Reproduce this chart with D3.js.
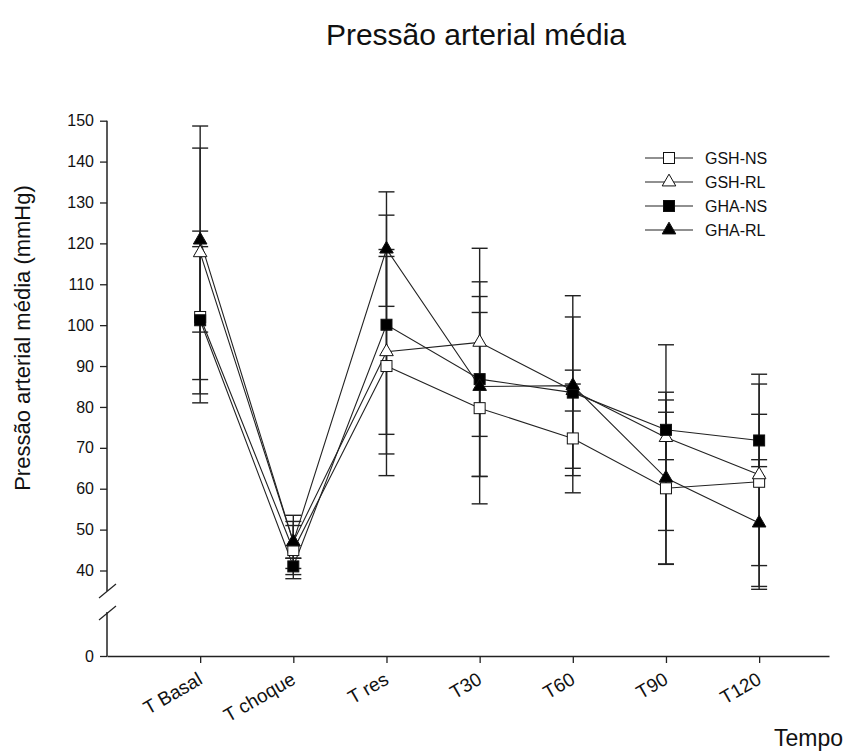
<!DOCTYPE html>
<html>
<head>
<meta charset="utf-8">
<script src="https://cdn.jsdelivr.net/npm/d3@7"></script>
<style>
  body { margin: 0; background: #fff; }
  svg { display: block; font-family: "Liberation Sans", Arial, sans-serif; }
</style>
</head>
<body>
<svg id="chart" width="846" height="753"></svg>
<script>
// ---- data ----
const categories = ["T Basal", "T choque", "T res", "T30", "T60", "T90", "T120"];
const seriesNames = ["GSH-NS", "GSH-RL", "GHA-NS", "GHA-RL"];
const gshNS = [102, 45, 90, 79.7, 72.3, 60.1, 61.7];
const gshNS_sd = [21, 7, 26.8, 23.4, 13.3, 18.6, 26.3];
const gshRL = [117.7, 47, 93.5, 95.8, 84, 72.5, 63.4];
const gshRL_sd = [31, 6.5, 25, 23, 5, 22.7, 22.2];
const ghaNS = [101.2, 41, 100.1, 86.8, 83.5, 74.4, 71.8];
const ghaNS_sd = [18, 2, 26.8, 23.8, 18.5, 7.3, 6.4];
const ghaRL = [120.8, 47, 118.6, 85, 85.2, 62.6, 51.6];
const ghaRL_sd = [22.5, 4, 14, 22, 22, 21, 15.5];
const yTicksUpper = [40, 50, 60, 70, 80, 90, 100, 110, 120, 130, 140, 150];
const yTicksLower = [0];

const series = [
  { name: seriesNames[0], values: gshNS, sd: gshNS_sd, shape: "square", fill: "#fff" },
  { name: seriesNames[1], values: gshRL, sd: gshRL_sd, shape: "triangle", fill: "#fff" },
  { name: seriesNames[2], values: ghaNS, sd: ghaNS_sd, shape: "square", fill: "#000" },
  { name: seriesNames[3], values: ghaRL, sd: ghaRL_sd, shape: "triangle", fill: "#000" }
];

const svg = d3.select("#chart");

// scales
const x = d3.scaleLinear().domain([0, 7.75]).range([107, 829]);
const yUp = d3.scaleLinear().domain([40, 150]).range([570.5, 120.7]);
const yLow = d3.scaleLinear().domain([0, 10]).range([656, 615]);

// title
svg.append("text").attr("x", 476).attr("y", 45).attr("text-anchor", "middle")
  .attr("font-size", 30).attr("fill", "#111").text("Pressão arterial média");

// y axis
const gYU = svg.append("g").attr("transform", "translate(107,0)")
  .call(d3.axisLeft(yUp).tickValues(yTicksUpper).tickSize(7).tickPadding(6).tickSizeOuter(0));
const gYL = svg.append("g").attr("transform", "translate(107,0)")
  .call(d3.axisLeft(yLow).tickValues(yTicksLower).tickSize(7).tickPadding(6).tickSizeOuter(0));
[gYU, gYL].forEach(g => {
  g.select(".domain").remove();
  g.selectAll("line").attr("stroke", "#222").attr("stroke-width", 1.3);
  g.selectAll("text").attr("font-size", 16).attr("fill", "#111")
    .attr("font-family", "Liberation Sans, Arial, sans-serif");
});
function line(x1, y1, x2, y2, sw) {
  svg.append("line").attr("x1", x1).attr("y1", y1).attr("x2", x2).attr("y2", y2)
    .attr("stroke", "#222").attr("stroke-width", sw || 1.5);
}
// axis line with break marks
line(107, yUp(150), 107, 591);
line(107, 612, 107, 656.5);
line(99, 598, 116, 584, 1.2);
line(99, 620, 116, 606, 1.2);

// x axis
const gX = svg.append("g").attr("transform", "translate(0,656)")
  .call(d3.axisBottom(x).tickValues(d3.range(1, categories.length + 1)).tickSize(7)
    .tickSizeOuter(0).tickFormat(d => categories[d - 1]));
gX.select(".domain").attr("stroke", "#222").attr("stroke-width", 1.5);
gX.selectAll("line").attr("stroke", "#222").attr("stroke-width", 1.3);
gX.selectAll("text")
  .attr("font-size", 19).attr("fill", "#111")
  .attr("font-family", "Liberation Sans, Arial, sans-serif")
  .attr("text-anchor", "end")
  .attr("dy", null)
  .attr("y", 0)
  .attr("transform", "translate(3,27) rotate(-30)");

// x axis title
svg.append("text").attr("x", 843).attr("y", 746).attr("text-anchor", "end")
  .attr("font-size", 23).attr("fill", "#111").text("Tempo");

// y axis title
svg.append("text").attr("transform", "translate(30,338) rotate(-90)")
  .attr("text-anchor", "middle").attr("font-size", 22).attr("fill", "#111")
  .text("Pressão arterial média (mmHg)");

// error bars
const capW = 8;
series.forEach(s => {
  const g = svg.append("g");
  s.values.forEach((v, i) => {
    const cx = x(i + 1);
    const hi = yUp(v + s.sd[i]), lo = yUp(v - s.sd[i]);
    g.append("line").attr("x1", cx).attr("x2", cx).attr("y1", hi).attr("y2", lo)
      .attr("stroke", "#222").attr("stroke-width", 1.4);
    [hi, lo].forEach(yy => g.append("line").attr("x1", cx - capW).attr("x2", cx + capW)
      .attr("y1", yy).attr("y2", yy).attr("stroke", "#222").attr("stroke-width", 1.4));
  });
});

// lines
const lineGen = d3.line().x((d, i) => x(i + 1)).y(d => yUp(d));
series.forEach(s => {
  svg.append("path").attr("d", lineGen(s.values)).attr("fill", "none")
    .attr("stroke", "#222").attr("stroke-width", 1.1);
});

// markers
function marker(g, shape, fill, cx, cy) {
  if (shape === "square") {
    g.append("rect").attr("x", cx - 5.5).attr("y", cy - 5.5).attr("width", 11).attr("height", 11)
      .attr("fill", fill).attr("stroke", "#111").attr("stroke-width", 1);
  } else {
    const sym = d3.symbol().type(d3.symbolTriangle).size(80);
    g.append("path").attr("d", sym()).attr("transform", `translate(${cx},${cy})`)
      .attr("fill", fill).attr("stroke", "#111").attr("stroke-width", 1);
  }
}
series.forEach(s => {
  const g = svg.append("g");
  s.values.forEach((v, i) => marker(g, s.shape, s.fill, x(i + 1), yUp(v)));
});

// legend
const legY = [158, 182, 206, 230];
series.forEach((s, i) => {
  const g = svg.append("g");
  g.append("line").attr("x1", 645).attr("x2", 693).attr("y1", legY[i]).attr("y2", legY[i])
    .attr("stroke", "#222").attr("stroke-width", 1.1);
  marker(g, s.shape, s.fill, 669, legY[i]);
  g.append("text").attr("x", 705).attr("y", legY[i]).attr("dy", "0.36em")
    .attr("font-size", 16).attr("fill", "#111").text(s.name);
});
</script>
</body>
</html>
